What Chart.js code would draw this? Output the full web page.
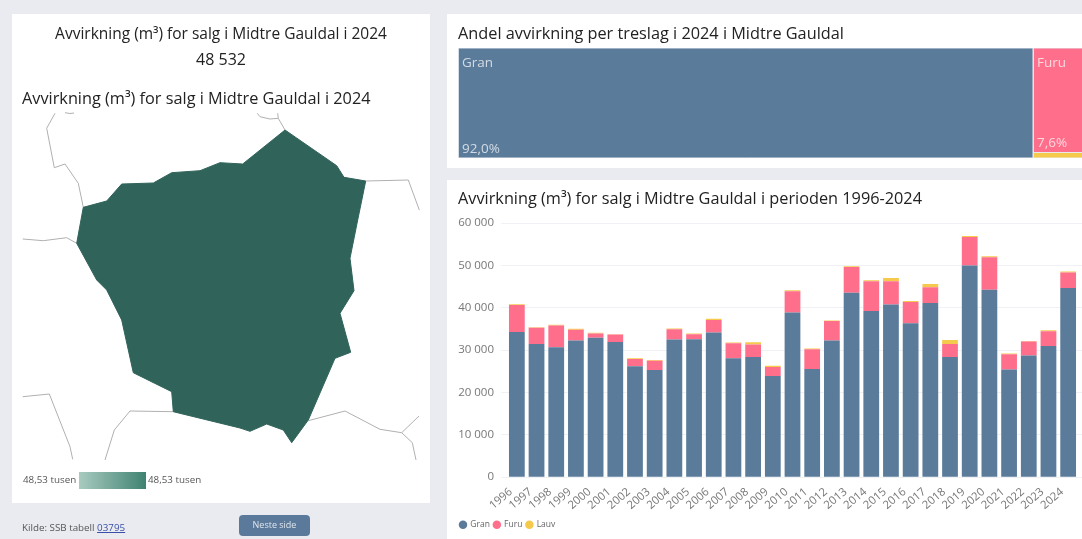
<!DOCTYPE html>
<html lang="no">
<head>
<meta charset="utf-8">
<title>Avvirkning Midtre Gauldal</title>
<script src="https://cdn.jsdelivr.net/npm/chart.js@4"></script>
<style>
  html, body { margin: 0; padding: 0; }
  body { width: 1082px; height: 539px; overflow: hidden; position: relative; background: #e9ebf0; font-family: "Open Sans", sans-serif; color: #222; filter: blur(0.4px); }
  .card { position: absolute; background: #fff; }
  .abs { position: absolute; white-space: nowrap; }
  canvas { position: absolute; display: block; }
  .title { font-size: 16.3px; line-height: 20px; }
  .small { font-size: 9.8px; line-height: 12px; color: #555; }
</style>
</head>
<body>
  <div class="card" style="left:12px;top:14px;width:418px;height:489px"></div>
  <div class="card" style="left:447px;top:14px;width:635px;height:154px"></div>
  <div class="card" style="left:447px;top:180px;width:635px;height:359px"></div>

  <div class="abs title" style="left:12px;width:418px;top:23px;text-align:center;font-size:15.5px">Avvirkning (m³) for salg i Midtre Gauldal i 2024</div>
  <div class="abs title" style="left:12px;width:418px;top:49px;text-align:center;font-size:16px">48 532</div>
  <div class="abs title" style="left:22px;top:88px">Avvirkning (m³) for salg i Midtre Gauldal i 2024</div>
  <div class="abs title" style="left:458px;top:23px">Andel avvirkning per treslag i 2024 i Midtre Gauldal</div>
  <div class="abs title" style="left:458px;top:188px">Avvirkning (m³) for salg i Midtre Gauldal i perioden 1996-2024</div>

  <canvas id="mapChart" width="418" height="425" style="left:12px;top:78px"></canvas>
  <canvas id="shareChart" width="625" height="110" style="left:458px;top:48px"></canvas>
  <canvas id="yearChart" width="635" height="334" style="left:447px;top:205px"></canvas>

  <div class="abs small" style="left:23px;top:474px">48,53 tusen</div>
  <div class="abs" style="left:79px;top:472px;width:67px;height:17px;background:linear-gradient(90deg,#a9cbc0,#3f8271)"></div>
  <div class="abs small" style="left:148px;top:474px">48,53 tusen</div>

  <div class="abs small" style="left:22px;top:522px">Kilde: SSB tabell <a href="#" style="color:#3a4fa8">03795</a></div>
  <div class="abs" style="left:239px;top:515px;width:71px;height:21px;border-radius:4px;background:#5b7a9b;color:#dfe6ee;font-size:9px;line-height:20px;text-align:center">Neste side</div>

<script>
// yearly harvest, m3
const years = ['1996','1997','1998','1999','2000','2001','2002','2003','2004','2005','2006','2007','2008','2009','2010','2011','2012','2013','2014','2015','2016','2017','2018','2019','2020','2021','2022','2023','2024'];
const gran = [34300,31460,30670,32250,32890,31940,26170,25300,32490,32570,34150,28060,28380,23870,38890,25530,32250,43560,39210,40790,36360,41110,28380,49960,44270,25450,28700,30990,44650];
const furu = [6330,3800,5130,2530,1020,1740,1730,2210,2450,1180,2930,3560,2920,2130,4980,4670,4590,6080,7040,5460,4980,3710,3080,6720,7670,3560,3320,3480,3690];
const lauv = [170,140,170,240,160,70,160,160,160,160,310,160,560,320,240,160,160,160,230,790,240,790,950,240,230,160,150,230,192];

// share of 2024 harvest, percent
const shareNames = ['Gran','Furu','Lauv'];
const shareValues = [92.0,7.6,0.4];
const shareLabels = ['92,0%','7,6%',''];

// map outlines, in map units
const districtX = [83.3,106.7,121.7,153.3,171.7,200,220,242.7,285,336.7,344,365.7,357.7,350,354,340,350.7,335,308.3,291.7,283.3,266.7,250,240,173.3,171.7,133.3,121.7,106.7,96.7,76.7,83.3];
const districtY = [207.3,201,184,183,172.7,170.7,162.7,164,130,165.7,177.3,181,220,258.3,290.7,313.3,352.3,358.3,420,442.7,430,424,431.3,428,411.7,391.7,372.7,320,290,280,243.3,207.3];
const borderLines = [
  [[83.3,207.3],[78.3,183.3],[65,164],[54.3,167.7],[46.7,128.3],[55,113.3]],
  [[65,112.7],[70,113.5],[74,113]],
  [[76.7,243.3],[66.7,237.7],[43.3,240.7],[22.7,239]],
  [[285,130],[278.3,118.3],[277.7,113.3]],
  [[278.3,118.3],[270,119],[260,116.7],[257.3,113.3]],
  [[365.7,181],[408.3,180],[419.3,210]],
  [[308.3,420.7],[345,411],[380,429.3],[401.7,432.7],[419,416]],
  [[401.7,432.7],[412.3,442.7],[416,460]],
  [[173.3,411.7],[130,411],[114.3,430],[105,460]],
  [[22.7,396.7],[49.3,394],[70,446.7],[72.7,459.3]]
];

const colors = { Gran: '#5a7b9a', Furu: '#ff6f8b', Lauv: '#f5c94c' };
const fontFamily = '"Open Sans", sans-serif';

// --- map ---
const mapDatasets = [{
  data: districtX.map((x, i) => ({ x, y: districtY[i] })),
  showLine: true,
  fill: 'shape',
  backgroundColor: '#30635a',
  borderColor: '#30635a',
  borderWidth: 1,
  pointRadius: 0,
  tension: 0
}];
borderLines.forEach(line => {
  mapDatasets.push({
    data: line.map(p => ({ x: p[0], y: p[1] })),
    showLine: true,
    borderColor: '#b0b0b0',
    borderWidth: 1,
    pointRadius: 0,
    tension: 0
  });
});
new Chart(document.getElementById('mapChart'), {
  type: 'scatter',
  data: { datasets: mapDatasets },
  options: {
    responsive: false,
    animation: false,
    layout: { padding: 0 },
    plugins: { legend: { display: false }, tooltip: { enabled: false } },
    scales: {
      // picture offset of the card: x starts at 12, y at 78
      x: { display: false, min: 12, max: 430 },
      y: { display: false, min: 78, max: 503, reverse: true }
    }
  }
});

// --- treemap of shares, rectangles built from the shares ---
const rest = shareValues[1] + shareValues[2];
function rect(x0, x1, y0, y1) {
  return [{ x: x0, y: y0 }, { x: x1, y: y0 }, { x: x1, y: y1 }, { x: x0, y: y1 }, { x: x0, y: y0 }];
}
const lauvHeight = shareValues[2] / rest * 100;
const shareRects = [
  rect(0, shareValues[0], 0, 100),
  rect(shareValues[0], 100, lauvHeight, 100),
  rect(shareValues[0], 100, 0, lauvHeight)
];
const shareLabelPlugin = {
  id: 'shareLabels',
  afterDatasetsDraw(chart) {
    const { ctx, scales } = chart;
    ctx.save();
    ctx.font = '13.5px ' + fontFamily;
    ctx.fillStyle = 'rgba(255,255,255,0.72)';
    ctx.textBaseline = 'middle';
    [0, 1].forEach(i => {
      const left = scales.x.getPixelForValue(shareRects[i][0].x) + 4;
      ctx.fillText(shareNames[i], left, 15);
      ctx.fillText(shareLabels[i], left, i === 0 ? 101 : 95);
    });
    ctx.restore();
  }
};
new Chart(document.getElementById('shareChart'), {
  type: 'scatter',
  data: {
    datasets: shareRects.map((r, i) => ({
      label: shareNames[i],
      data: r,
      showLine: true,
      fill: 'shape',
      backgroundColor: colors[shareNames[i]],
      borderColor: '#e6eaef',
      borderWidth: 1,
      pointRadius: 0,
      tension: 0
    }))
  },
  options: {
    responsive: false,
    animation: false,
    layout: { padding: 0 },
    plugins: { legend: { display: false }, tooltip: { enabled: false } },
    scales: {
      x: { display: false, min: 0, max: 100 },
      y: { display: false, min: 0, max: 100 }
    }
  },
  plugins: [shareLabelPlugin]
});

// --- yearly stacked bars ---
function barSet(label, data) {
  return { label, data, backgroundColor: colors[label], barPercentage: 0.8, categoryPercentage: 1 };
}
new Chart(document.getElementById('yearChart'), {
  type: 'bar',
  data: {
    labels: years,
    datasets: [barSet('Gran', gran), barSet('Furu', furu), barSet('Lauv', lauv)]
  },
  options: {
    responsive: false,
    animation: false,
    layout: { padding: { left: 9, top: 18, bottom: 0 } },
    plugins: {
      tooltip: { enabled: false },
      legend: {
        position: 'bottom',
        align: 'start',
        labels: {
          usePointStyle: true,
          pointStyle: 'circle',
          boxWidth: 6,
          boxHeight: 6,
          padding: 4,
          color: '#666',
          font: { family: fontFamily, size: 8.5 }
        }
      }
    },
    scales: {
      x: {
        stacked: true,
        afterFit(scale) { scale.height = 39.3; },
        grid: { display: false },
        border: { display: false },
        ticks: { autoSkip: false, minRotation: 40, maxRotation: 40, padding: 0, labelOffset: -6, color: '#777', font: { family: fontFamily, size: 11.3 } }
      },
      y: {
        stacked: true,
        min: 0,
        max: 60000,
        afterFit(scale) { scale.width = 51; },
        grid: { color: '#f0f1f4', tickLength: 6 },
        border: { display: false },
        ticks: {
          stepSize: 10000,
          padding: 7,
          color: '#777',
          font: { family: fontFamily, size: 11.5 },
          callback: v => String(v).replace(/\B(?=(\d{3})+$)/g, ' ')
        }
      },
      yEdge: {
        position: 'right',
        min: 0,
        max: 60000,
        afterFit(scale) { scale.width = 4; },
        grid: { color: '#f0f1f4', tickLength: 4, drawOnChartArea: false },
        border: { display: false },
        ticks: { stepSize: 10000, display: false }
      }
    }
  }
});
</script>
</body>
</html>
